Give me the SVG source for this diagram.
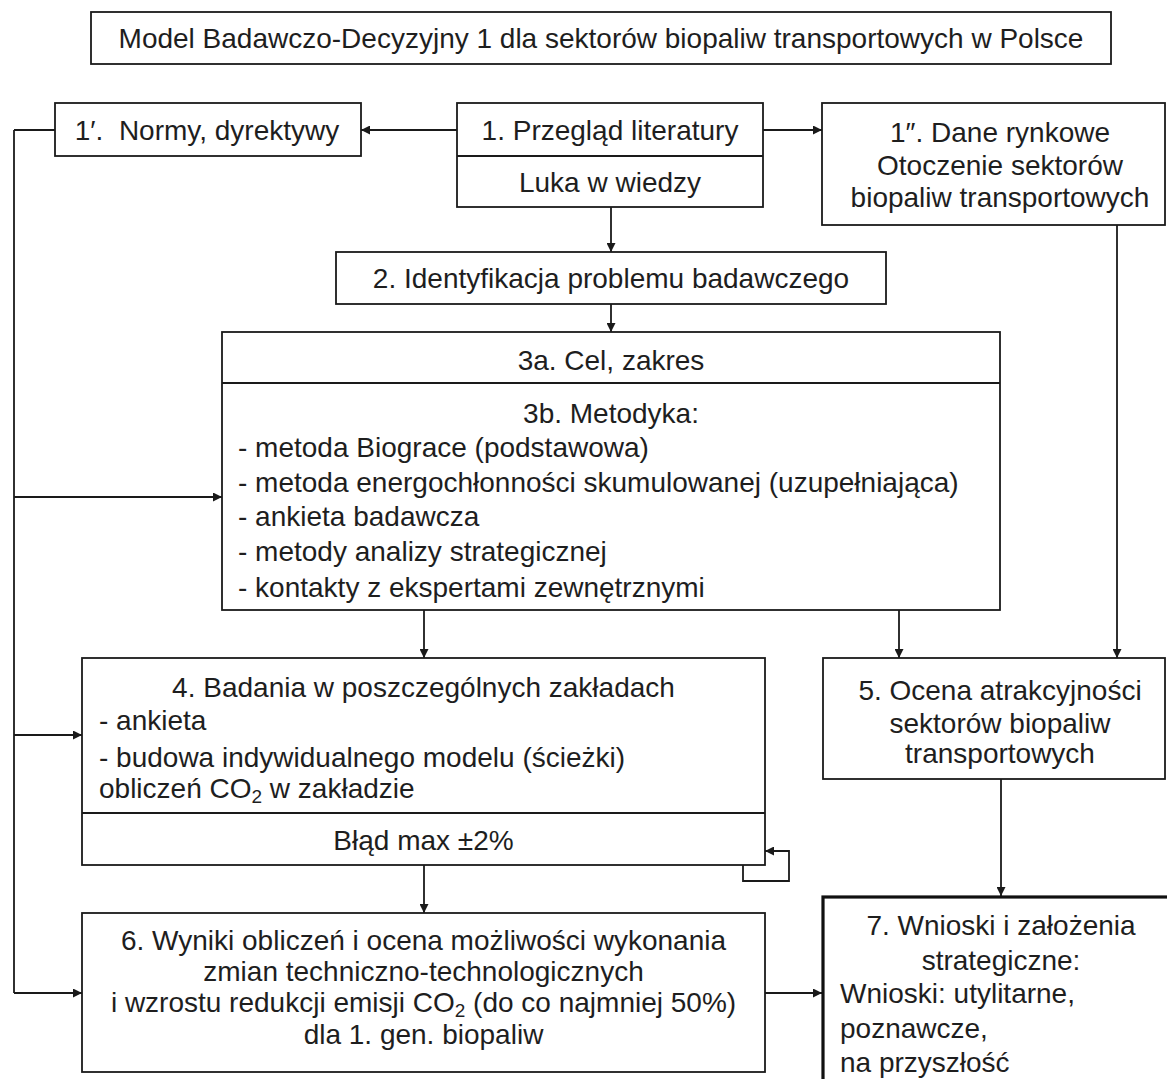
<svg xmlns="http://www.w3.org/2000/svg" width="1167" height="1079" viewBox="0 0 1167 1079">
<style>
text{font-family:"Liberation Sans",Arial,sans-serif;font-size:28px;fill:#1e1e1e}
.c{text-anchor:middle}
.box{fill:#fff;stroke:#1a1a1a;stroke-width:1.8}
.thick{fill:#fff;stroke:#111;stroke-width:3.2}
.ln{fill:none;stroke:#1a1a1a;stroke-width:1.8}
.sub{font-size:19px}
</style>
<defs>
<marker id="ah" viewBox="0 0 10 10" refX="10" refY="5" markerWidth="9" markerHeight="9" markerUnits="userSpaceOnUse" orient="auto">
<path d="M0,0 L10,5 L0,10 z" fill="#1a1a1a"/>
</marker>
</defs>
<rect width="1167" height="1079" fill="#fff"/>
<g id="title">
<rect class="box" x="91" y="12" width="1020" height="52"/>
<text class="c" x="601" y="48">Model Badawczo-Decyzyjny 1 dla sektorów biopaliw transportowych w Polsce</text>
</g>
<g id="connectors">
<path class="ln" d="M14,130 H55"/>
<path class="ln" d="M14,130 V993"/>
<path class="ln" d="M457,130 H361" marker-end="url(#ah)"/>
<path class="ln" d="M763,130 H822" marker-end="url(#ah)"/>
<path class="ln" d="M611,207 V252" marker-end="url(#ah)"/>
<path class="ln" d="M611,304 V332" marker-end="url(#ah)"/>
<path class="ln" d="M14,497 H222" marker-end="url(#ah)"/>
<path class="ln" d="M14,735 H82" marker-end="url(#ah)"/>
<path class="ln" d="M14,993 H82" marker-end="url(#ah)"/>
<path class="ln" d="M424,610 V658" marker-end="url(#ah)"/>
<path class="ln" d="M899,610 V658" marker-end="url(#ah)"/>
<path class="ln" d="M1117,225 V658" marker-end="url(#ah)"/>
<path class="ln" d="M743,865 V881 H789 V851 H765" marker-end="url(#ah)"/>
<path class="ln" d="M424,865 V913" marker-end="url(#ah)"/>
<path class="ln" d="M765,993 H822" marker-end="url(#ah)"/>
<path class="ln" d="M1001,779 V896" marker-end="url(#ah)"/>
</g>
<g id="n1p">
<rect class="box" x="55" y="103" width="306" height="53"/>
<text class="c" x="207" y="140">1′.&#160; Normy, dyrektywy</text>
</g>
<g id="n1">
<rect class="box" x="457" y="103" width="306" height="104"/>
<line class="ln" x1="457" y1="156" x2="763" y2="156"/>
<text class="c" x="610" y="140">1. Przegląd literatury</text>
<text class="c" x="610" y="192">Luka w wiedzy</text>
</g>
<g id="n1pp">
<rect class="box" x="822" y="103" width="343" height="122"/>
<text class="c" x="1000" y="142">1″. Dane rynkowe</text>
<text class="c" x="1000" y="175">Otoczenie sektorów</text>
<text class="c" x="1000" y="207">biopaliw transportowych</text>
</g>
<g id="n2">
<rect class="box" x="336" y="252" width="550" height="52"/>
<text class="c" x="611" y="288">2. Identyfikacja problemu badawczego</text>
</g>
<g id="n3">
<rect class="box" x="222" y="332" width="778" height="278"/>
<line class="ln" x1="222" y1="383" x2="1000" y2="383"/>
<text class="c" x="611" y="370">3a. Cel, zakres</text>
<text class="c" x="611" y="423">3b. Metodyka:</text>
<text x="238" y="457">- metoda Biograce (podstawowa)</text>
<text x="238" y="492">- metoda energochłonności skumulowanej (uzupełniająca)</text>
<text x="238" y="526">- ankieta badawcza</text>
<text x="238" y="561">- metody analizy strategicznej</text>
<text x="238" y="597">- kontakty z ekspertami zewnętrznymi</text>
</g>
<g id="n4">
<rect class="box" x="82" y="658" width="683" height="207"/>
<line class="ln" x1="82" y1="813" x2="765" y2="813"/>
<text class="c" x="423.5" y="697">4. Badania w poszczególnych zakładach</text>
<text x="99" y="730">- ankieta</text>
<text x="99" y="767">- budowa indywidualnego modelu (ścieżki)</text>
<text x="99" y="798">obliczeń CO<tspan class="sub" dy="5">2</tspan><tspan dy="-5"> w zakładzie</tspan></text>
<text class="c" x="423.5" y="850">Błąd max ±2%</text>
</g>
<g id="n5">
<rect class="box" x="823" y="658" width="342" height="121"/>
<text class="c" x="1000" y="700">5. Ocena atrakcyjności</text>
<text class="c" x="1000" y="733">sektorów biopaliw</text>
<text class="c" x="1000" y="763">transportowych</text>
</g>
<g id="n6">
<rect class="box" x="82" y="913" width="683" height="159"/>
<text class="c" x="423.5" y="950">6. Wyniki obliczeń i ocena możliwości wykonania</text>
<text class="c" x="423.5" y="981">zmian techniczno-technologicznych</text>
<text class="c" x="423.5" y="1012">i wzrostu redukcji emisji CO<tspan class="sub" dy="5">2</tspan><tspan dy="-5"> (do co najmniej 50%)</tspan></text>
<text class="c" x="423.5" y="1044">dla 1. gen. biopaliw</text>
</g>
<g id="n7">
<rect class="thick" x="823" y="897" width="360" height="200"/>
<text class="c" x="1001" y="935">7. Wnioski i założenia</text>
<text class="c" x="1001" y="970">strategiczne:</text>
<text x="840" y="1003">Wnioski: utylitarne,</text>
<text x="840" y="1038">poznawcze,</text>
<text x="840" y="1072">na przyszłość</text>
</g>
</svg>
